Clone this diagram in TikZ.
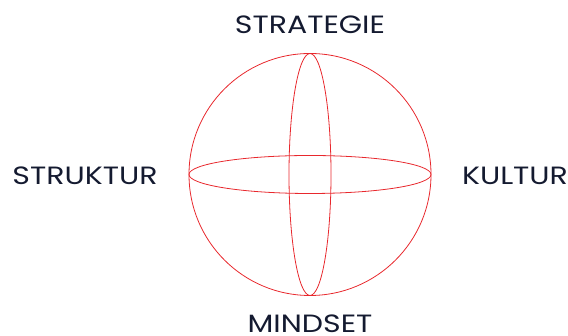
\documentclass[tikz,border=0pt]{standalone}
\usepackage{fontspec}
\setmainfont{Poppins}
\definecolor{navy}{HTML}{141A30}
\definecolor{sred}{HTML}{E8282D}
\newcommand{\widetext}[1]{\scalebox{1.2}[1]{#1}}
\begin{document}
\begin{tikzpicture}[x=1pt,y=1pt,
  lbl/.style={font=\fontsize{25}{25}\selectfont, text=navy, inner sep=0pt, anchor=base},
  wire/.style={draw=sred, line width=0.8pt}]
\useasboundingbox (0,0) rectangle (568,336);
\coordinate (c) at (310,161.5);
\draw[wire] (c) circle (121);
\draw[wire] (c) ellipse [x radius=121, y radius=19];
\draw[wire] (c) ellipse [x radius=21, y radius=121];
\node[lbl] (strategie) at (310,302) {\widetext{STRATEGIE}};
\node[lbl] (struktur) at (85,151) {\widetext{STRUKTUR}};
\node[lbl] (kultur) at (515,151) {\widetext{KULTUR}};
\node[lbl] (mindset) at (310,3) {\widetext{MINDSET}};
\end{tikzpicture}
\end{document}
